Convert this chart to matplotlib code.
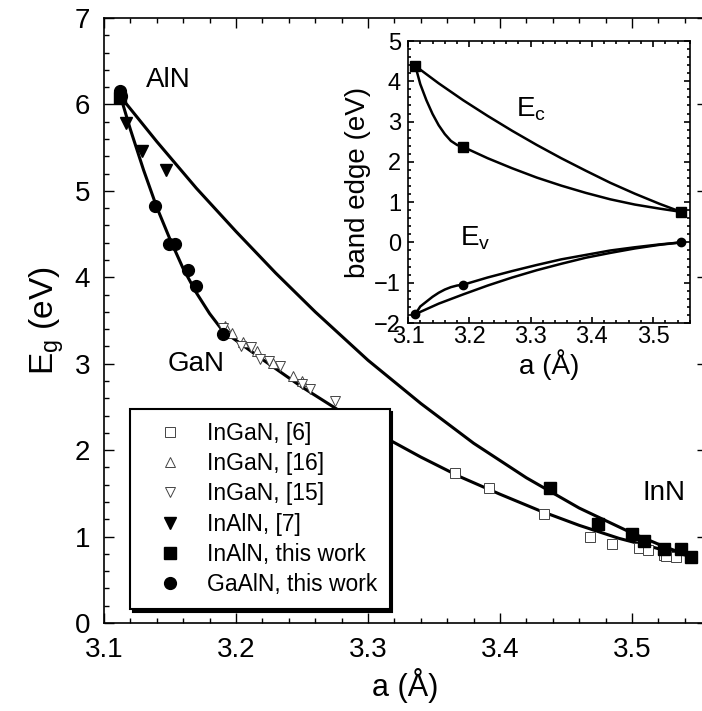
import numpy as np
import matplotlib
matplotlib.use("Agg")
import matplotlib.pyplot as plt
from matplotlib.ticker import MultipleLocator

plt.rcParams['font.family'] = ['Liberation Sans', 'DejaVu Sans']
plt.rcParams['mathtext.default'] = 'regular'

# ---- main panel: band gap vs lattice constant ----
# fitted curves
gaaln_a = [3.112, 3.12, 3.13, 3.14, 3.15, 3.16, 3.17, 3.18, 3.19]
gaaln_e = [6.12, 5.71, 5.24, 4.81, 4.44, 4.10, 3.82, 3.58, 3.38]
ingan_a = [3.19, 3.22, 3.25, 3.28, 3.31, 3.34, 3.37, 3.40, 3.43, 3.46, 3.49, 3.52, 3.545]
ingan_e = [3.38, 3.05, 2.73, 2.44, 2.17, 1.92, 1.69, 1.49, 1.30, 1.13, 0.98, 0.86, 0.77]
inaln_a = [3.112, 3.14, 3.17, 3.20, 3.23, 3.26, 3.30, 3.34, 3.38, 3.42, 3.46, 3.50, 3.525, 3.545]
inaln_e = [6.10, 5.57, 5.03, 4.53, 4.05, 3.60, 3.04, 2.54, 2.08, 1.68, 1.33, 1.04, 0.88, 0.77]

# measured points
ingan6_a = [3.366, 3.392, 3.433, 3.468, 3.485, 3.505, 3.512, 3.524, 3.526, 3.533]
ingan6_e = [1.74, 1.56, 1.26, 1.00, 0.91, 0.87, 0.84, 0.79, 0.77, 0.76]
ingan16_a = [3.192, 3.197, 3.205, 3.216, 3.228, 3.243, 3.250]
ingan16_e = [3.44, 3.36, 3.25, 3.15, 3.01, 2.86, 2.80]
ingan15_a = [3.190, 3.204, 3.211, 3.218, 3.225, 3.233, 3.250, 3.256, 3.275]
ingan15_e = [3.41, 3.20, 3.19, 3.06, 3.03, 2.97, 2.76, 2.71, 2.57]
inaln7_a = [3.117, 3.129, 3.147]
inaln7_e = [5.78, 5.46, 5.24]
inaln_tw_a = [3.112, 3.438, 3.474, 3.500, 3.509, 3.524, 3.537, 3.545]
inaln_tw_e = [6.08, 1.56, 1.15, 1.03, 0.95, 0.86, 0.86, 0.76]
gaaln_tw_a = [3.112, 3.113, 3.139, 3.149, 3.154, 3.164, 3.170, 3.190]
gaaln_tw_e = [6.16, 6.10, 4.82, 4.39, 4.38, 4.09, 3.90, 3.34]

# ---- inset: band edges ----
ec_direct_a = [3.112, 3.15, 3.19, 3.23, 3.27, 3.31, 3.35, 3.39, 3.43, 3.47, 3.51, 3.545]
ec_direct_e = [4.38, 3.95, 3.53, 3.14, 2.77, 2.42, 2.09, 1.78, 1.48, 1.21, 0.96, 0.76]
ec_gan_a = [3.112, 3.12, 3.13, 3.14, 3.15, 3.16, 3.17, 3.18, 3.19, 3.23, 3.27, 3.31,
            3.35, 3.39, 3.43, 3.47, 3.51, 3.545]
ec_gan_e = [4.38, 3.93, 3.53, 3.19, 2.91, 2.69, 2.52, 2.42, 2.37, 2.09, 1.84, 1.61,
            1.41, 1.23, 1.07, 0.94, 0.84, 0.76]
ev_direct_a = [3.112, 3.15, 3.19, 3.23, 3.27, 3.31, 3.35, 3.39, 3.43, 3.47, 3.51, 3.545]
ev_direct_e = [-1.78, -1.52, -1.29, -1.07, -0.87, -0.69, -0.53, -0.38, -0.26, -0.15, -0.06, 0.0]
ev_gan_a = [3.112, 3.12, 3.13, 3.14, 3.15, 3.16, 3.17, 3.18, 3.19, 3.23, 3.27, 3.31,
            3.35, 3.39, 3.43, 3.47, 3.51, 3.545]
ev_gan_e = [-1.78, -1.59, -1.47, -1.35, -1.25, -1.17, -1.11, -1.07, -1.05, -0.87, -0.71, -0.56,
            -0.42, -0.31, -0.20, -0.12, -0.05, 0.0]
ec_pts_a = [3.112, 3.19, 3.545]
ec_pts_e = [4.38, 2.37, 0.76]
ev_pts_a = [3.112, 3.19, 3.545]
ev_pts_e = [-1.78, -1.05, 0.0]

fig = plt.figure(figsize=(7.02, 7.11), dpi=100)
ax = fig.add_axes([104 / 702, 88 / 711, 603 / 702, 605 / 711])

ax.plot(gaaln_a, gaaln_e, color='black', lw=2.2, zorder=2)
ax.plot(ingan_a, ingan_e, color='black', lw=2.2, zorder=2)
ax.plot(inaln_a, inaln_e, color='black', lw=2.2, zorder=2)

ax.plot(ingan6_a, ingan6_e, ls='none', marker='s', ms=7.5, mfc='white', mec='#444444', mew=0.7,
        label='InGaN, [6]', zorder=3)
ax.plot(ingan16_a, ingan16_e, ls='none', marker='^', ms=7.5, mfc='white', mec='#444444', mew=0.7,
        label='InGaN, [16]', zorder=3)
ax.plot(ingan15_a, ingan15_e, ls='none', marker='v', ms=7.5, mfc='white', mec='#444444', mew=0.7,
        label='InGaN, [15]', zorder=3)
ax.plot(inaln7_a, inaln7_e, ls='none', marker='v', ms=8, color='black', label='InAlN, [7]', zorder=4)
ax.plot(inaln_tw_a, inaln_tw_e, ls='none', marker='s', ms=8.5, color='black',
        label='InAlN, this work', zorder=4)
ax.plot(gaaln_tw_a, gaaln_tw_e, ls='none', marker='o', ms=8.5, color='black',
        label='GaAlN, this work', zorder=4)

ax.text(3.149, 6.28, 'AlN', fontsize=20, ha='center', va='center')
ax.text(3.170, 3.00, 'GaN', fontsize=20, ha='center', va='center')
ax.text(3.524, 1.50, 'InN', fontsize=20, ha='center', va='center')

ax.set_xlim(3.1, 3.5568)
ax.set_ylim(0, 7)
ax.xaxis.set_major_locator(MultipleLocator(0.1))
ax.xaxis.set_minor_locator(MultipleLocator(0.02))
ax.yaxis.set_major_locator(MultipleLocator(1))
ax.yaxis.set_minor_locator(MultipleLocator(0.2))
ax.set_xticks([3.1, 3.2, 3.3, 3.4, 3.5])
ax.tick_params(which='both', direction='in', top=True, right=True, labelsize=20, width=1)
ax.tick_params(which='major', length=7)
ax.tick_params(which='minor', length=3.5)
ax.tick_params(axis='x', which='major', pad=10)
ax.tick_params(axis='y', which='major', pad=10)
for s in ax.spines.values():
    s.set_linewidth(1.2)
ax.set_xlabel('a (Å)', fontsize=22, labelpad=4)
ax.set_ylabel(r'E$_g$ (eV)', fontsize=24, labelpad=6)

leg = ax.legend(loc='lower left', bbox_to_anchor=(0.0431, 0.023), borderaxespad=0,
                fontsize=16.5, frameon=True, fancybox=False, edgecolor='black',
                borderpad=0.55, handlelength=2.4, handletextpad=0.4, labelspacing=0.32,
                shadow={'color': 'black', 'alpha': 1})
leg.get_frame().set_linewidth(1.5)

# ---- inset ----
ins = fig.add_axes([408 / 702, 388 / 711, 282 / 702, 282 / 711])
ins.plot(ec_direct_a, ec_direct_e, color='black', lw=1.8)
ins.plot(ec_gan_a, ec_gan_e, color='black', lw=1.8)
ins.plot(ev_direct_a, ev_direct_e, color='black', lw=1.8)
ins.plot(ev_gan_a, ev_gan_e, color='black', lw=1.8)
ins.plot(ec_pts_a, ec_pts_e, ls='none', marker='s', ms=6.5, color='black')
ins.plot(ev_pts_a, ev_pts_e, ls='none', marker='o', ms=6, color='black')
ins.text(3.30, 3.3, r'E$_c$', fontsize=20, ha='center', va='center')
ins.text(3.21, 0.1, r'E$_v$', fontsize=20, ha='center', va='center')

ins.set_xlim(3.1, 3.56)
ins.set_ylim(-2, 5)
ins.xaxis.set_major_locator(MultipleLocator(0.1))
ins.xaxis.set_minor_locator(MultipleLocator(0.02))
ins.yaxis.set_major_locator(MultipleLocator(1))
ins.yaxis.set_minor_locator(MultipleLocator(0.2))
ins.tick_params(which='both', direction='in', top=True, right=True, labelsize=17, width=1.2, pad=2)
ins.tick_params(which='major', length=4)
ins.tick_params(which='minor', length=2)
ins.tick_params(axis='y', which='major', pad=5)
for s in ins.spines.values():
    s.set_linewidth(1.2)
ins.set_xlabel('a (Å)', fontsize=20, labelpad=1)
ins.set_ylabel('band edge (eV)', fontsize=20, labelpad=2)

plt.savefig('out.png', dpi=100)
